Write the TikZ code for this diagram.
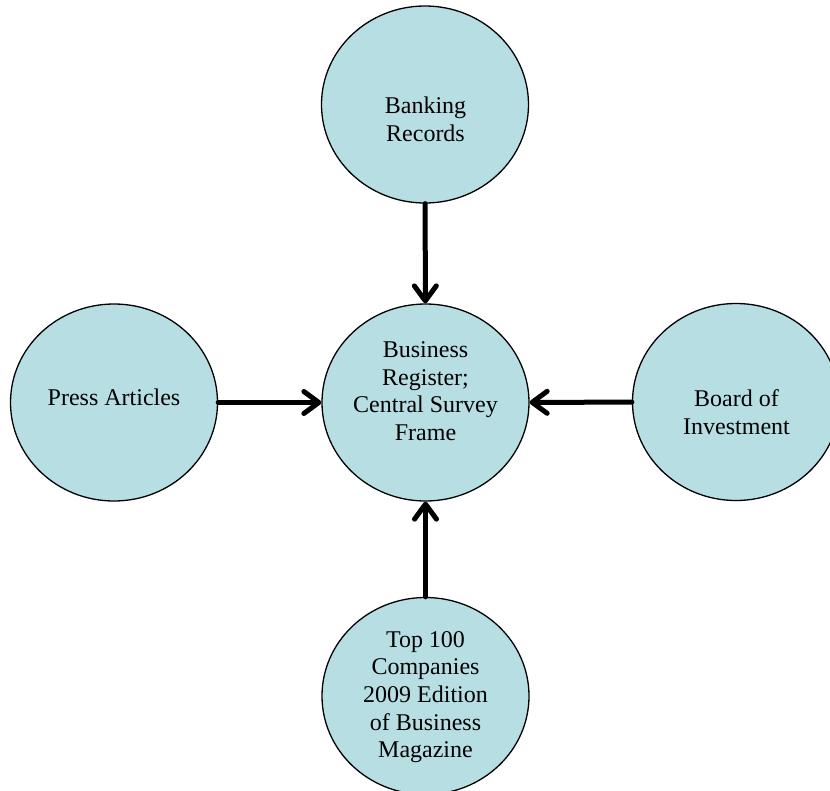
\documentclass[tikz,border=0pt]{standalone}
\usepackage{fontspec}
\setmainfont{Liberation Serif}
\usetikzlibrary{shapes.geometric,arrows.meta}
\definecolor{bubble}{RGB}{183,223,227}
\tikzset{
  bubble/.style={ellipse,draw=black,line width=1.3pt,fill=bubble,minimum width=207pt,minimum height=197pt,inner sep=0pt},
  label/.style={align=center,font=\fontsize{24}{27.6}\selectfont,inner sep=0pt},
  feed/.style={line width=5pt,line cap=round,line join=round,-{Straight Barb[length=15pt,width=22pt,line cap=round,line join=round]}}
}
\begin{document}
\begin{tikzpicture}[x=1pt,y=-1pt]
\useasboundingbox (0,0) rectangle (830,790);
\node[bubble] (top) at (425,104.5) {};
\node[bubble] (mid) at (425.5,402.5) {};
\node[bubble] (left) at (114,402.5) {};
\node[bubble] (right) at (736,402) {};
\node[bubble] (bot) at (425.5,696) {};
\node[label] (ttop) at (425.5,119) {Banking\\Records};
\node[label] (tmid) at (425.5,391) {Business\\Register;\\Central Survey\\Frame};
\node[label] (tleft) at (114,397) {Press Articles};
\node[label] (tright) at (736.5,412) {Board of\\Investment};
\node[label] (tbot) at (425.5,697) {Top 100\\Companies\\2009 Edition\\of Business\\Magazine};
\draw[feed] (top) -- (mid);
\draw[feed] (left) -- (mid);
\draw[feed] (right) -- (mid);
\draw[feed] (bot) -- (mid);
\end{tikzpicture}
\end{document}
